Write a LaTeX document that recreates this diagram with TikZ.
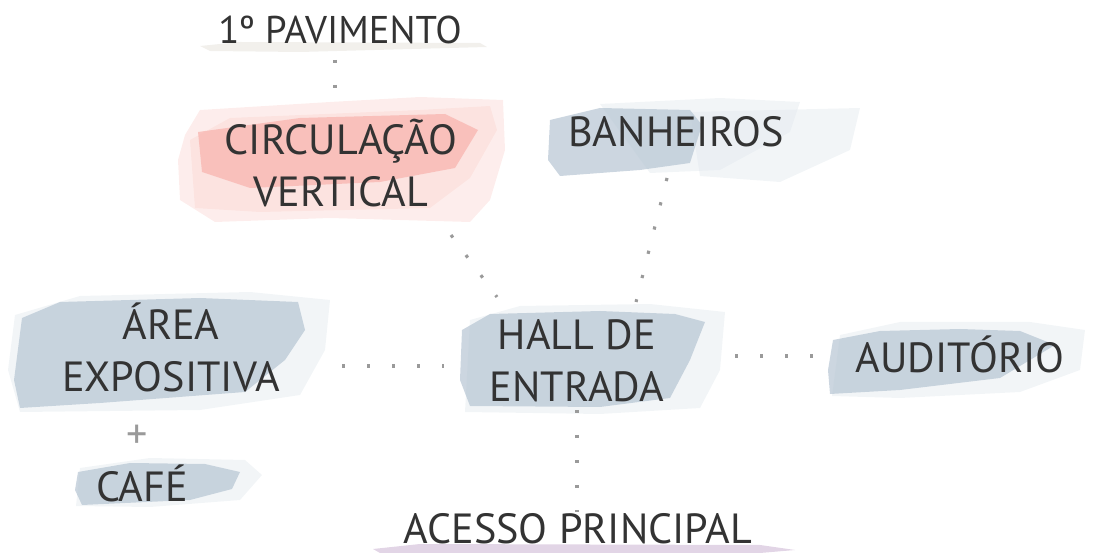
\documentclass[tikz,border=0pt]{standalone}
\usepackage{fontspec}
\setmainfont{PT Sans}
\usetikzlibrary{calc,backgrounds}

\definecolor{inkgray}{HTML}{333333}
\definecolor{dotgray}{HTML}{9A9A9A}
\definecolor{washblue}{HTML}{B6C5D3}
\definecolor{washpale}{HTML}{DFE6EC}
\definecolor{washpink}{HTML}{F8B2AC}
\definecolor{washrose}{HTML}{FAD3CF}
\definecolor{washsand}{HTML}{ECE9E4}
\definecolor{washlilac}{HTML}{D6C3DB}

\begin{document}
\begin{tikzpicture}[
    x=0.02cm, y=-0.02cm,
    lbl/.style={
        inner sep=0pt,
        align=center,
        text=inkgray,
        font=\fontsize{24}{29.6}\selectfont
    },
    link/.style={draw=dotgray, line width=1.8pt, dash pattern=on 1.8pt off 12.43pt},
    wash/.style={fill=#1, draw=none, fill opacity=0.7},
    haze/.style={fill=#1, draw=none, fill opacity=0.4}
]
\useasboundingbox (0,0) rectangle (1119,553);

% Labels
\node[lbl, font=\fontsize{22}{26}\selectfont] (pav) at (340,30) {1º PAVIMENTO};
\node[lbl] (circ) at (341,163) {CIRCULAÇÃO\\VERTICAL};
\node[lbl] (ban)  at (676,132) {BANHEIROS};
\node[lbl] (area) at (171,347) {ÁREA\\EXPOSITIVA};
\node[lbl, text=dotgray] (plus) at (137,437) {+};
\node[lbl] (cafe) at (142,483) {CAFÉ};
\node[lbl] (hall) at (577,361) {HALL DE\\ENTRADA};
\node[lbl] (aud)  at (960,354) {AUDITÓRIO};
\node[lbl] (acc)  at (578,529) {ACESSO PRINCIPAL};

% Connectors
\draw[link] ($(pav)+(-5,30)$)    -- ($(circ)+(-6,-75)$);
\draw[link] ($(circ)+(110,72)$)  -- ($(hall)+(-80,-64)$);
\draw[link] ($(ban)+(-9,46)$)    -- ($(hall)+(59,-59)$);
\draw[link] ($(area)+(171,19)$)  -- ($(hall)+(-133,5)$);
\draw[link] ($(hall)+(158,-5)$)  -- ($(aud)+(-145,2)$);
\draw[link] ($(hall)+(0,49)$)    -- ($(acc)+(-1,-17)$);

% Watercolour washes
\begin{scope}[on background layer]
    % underline strokes
    \fill[wash=washsand] (200,46) -- (240,42) -- (480,43) -- (487,47) -- (300,52) -- (210,51) -- cycle;
    \fill[wash=washlilac] (373,549) -- (420,544) -- (760,545) -- (795,550) -- (760,553) -- (380,553) -- cycle;
    % circulacao
    \fill[haze=washrose] (185,135) -- (200,110) -- (330,102) -- (420,97) -- (503,100) -- (505,150) -- (490,200) -- (470,222) -- (330,218) -- (215,222) -- (180,200) -- (178,160) -- cycle;
    \fill[haze=washrose] (190,140) -- (230,118) -- (420,110) -- (490,106) -- (497,130) -- (470,178) -- (430,208) -- (260,212) -- (195,208) -- cycle;
    \fill[wash=washpink] (198,132) -- (300,118) -- (445,114) -- (478,130) -- (455,168) -- (380,182) -- (250,188) -- (202,172) -- cycle;
    % banheiros
    \fill[haze=washpale] (690,112) -- (860,108) -- (850,150) -- (780,182) -- (700,176) -- cycle;
    \fill[haze=washpale] (600,104) -- (720,98) -- (800,102) -- (790,132) -- (720,170) -- (650,173) -- cycle;
    \fill[wash=washblue] (550,120) -- (600,108) -- (690,110) -- (702,125) -- (690,163) -- (640,170) -- (560,176) -- (548,160) -- cycle;
    % area expositiva
    \fill[haze=washpale] (15,315) -- (80,296) -- (250,292) -- (330,300) -- (325,350) -- (300,395) -- (200,410) -- (20,412) -- (8,370) -- cycle;
    \fill[wash=washblue] (22,318) -- (60,302) -- (200,298) -- (298,302) -- (305,330) -- (285,360) -- (245,392) -- (100,403) -- (20,408) -- (14,380) -- cycle;
    % cafe
    \fill[haze=washpale] (80,468) -- (150,458) -- (245,460) -- (262,475) -- (240,500) -- (150,507) -- (76,506) -- cycle;
    \fill[wash=washblue] (78,472) -- (130,463) -- (205,464) -- (240,472) -- (232,489) -- (190,500) -- (82,505) -- (75,490) -- cycle;
    % hall de entrada
    \fill[haze=washpale] (470,320) -- (520,306) -- (650,304) -- (725,312) -- (720,370) -- (700,408) -- (600,414) -- (465,412) -- cycle;
    \fill[wash=washblue] (462,330) -- (490,314) -- (600,311) -- (675,314) -- (705,322) -- (690,360) -- (670,398) -- (600,407) -- (470,406) -- (460,380) -- cycle;
    % auditorio
    \fill[haze=washpale] (840,335) -- (900,322) -- (1030,322) -- (1085,330) -- (1080,370) -- (1020,392) -- (900,398) -- (832,396) -- cycle;
    \fill[wash=washblue] (833,340) -- (880,331) -- (960,329) -- (1020,331) -- (1055,345) -- (1000,378) -- (900,390) -- (830,394) -- (828,370) -- cycle;
\end{scope}

\end{tikzpicture}
\end{document}
